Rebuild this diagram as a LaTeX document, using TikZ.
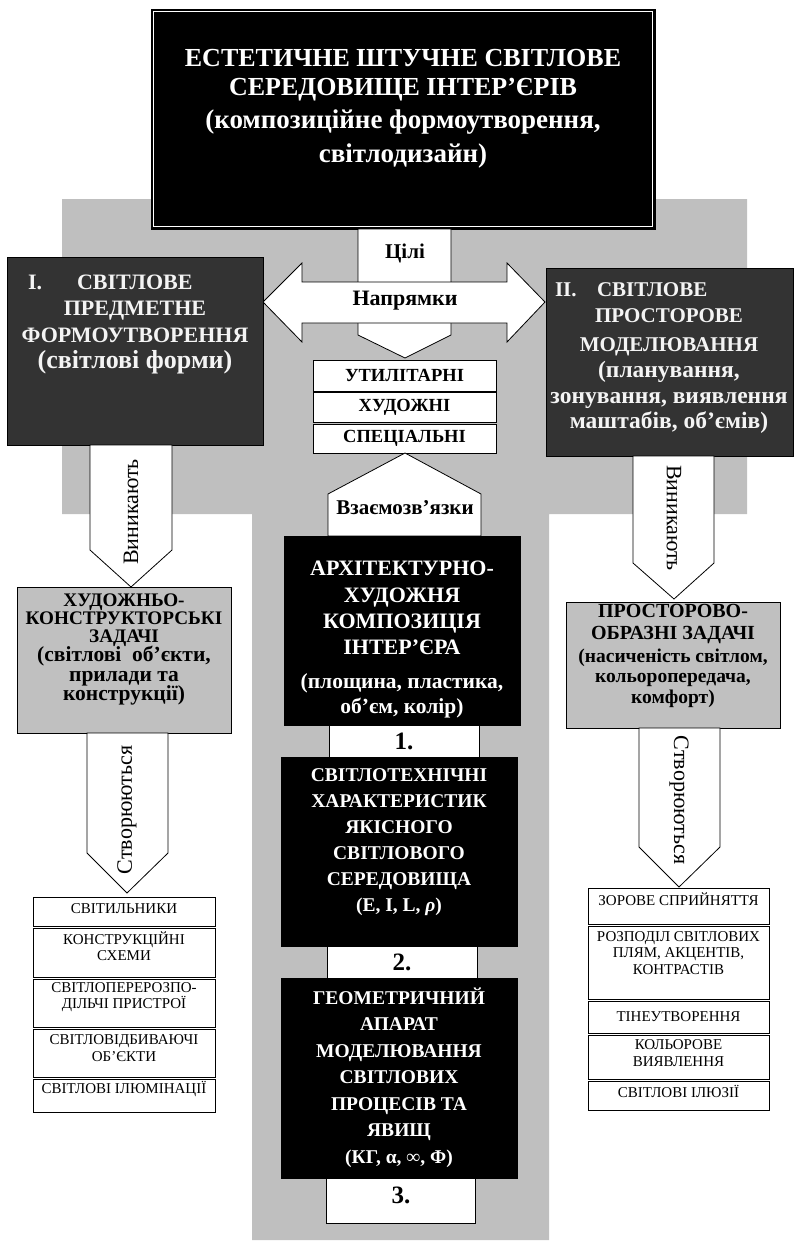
\documentclass[tikz,border=0pt]{standalone}
\usepackage{fontspec}
\setmainfont{Liberation Serif}
\definecolor{bg}{HTML}{BFBFBF}
\definecolor{boxgray}{HTML}{C0C0C0}
\definecolor{dark}{HTML}{333333}
\definecolor{lite}{HTML}{F4F4F4}
\begin{document}
\begin{tikzpicture}[x=1pt,y=-1pt,
  every node/.style={inner sep=0pt, outer sep=0pt},
  frame/.style={draw=black, line width=0.8pt, anchor=north west},
  blk/.style={frame, fill=black},
  drk/.style={frame, fill=dark},
  gry/.style={frame, fill=boxgray},
  wht/.style={frame, fill=white},
  barrow/.style={draw=black, line width=0.8pt, fill=white},
  fs/.style 2 args={font=\fontsize{#1}{#2}\selectfont},
  wb/.style={text=white, align=center},
  lb/.style={text=lite, align=center},
  bb/.style={text=black, align=center},
  listtxt/.style={text=black, align=center, fs={15}{16.5}},
  rot/.style={text=black, fs={22}{24}}
]
\useasboundingbox (0,0) rectangle (794,1245);
% gray background
\fill[bg] (62,199) -- (747,199) -- (747,514) -- (549,514) -- (549,1240)
  -- (252,1240) -- (252,514) -- (62,514) -- cycle;

% top box
\node[blk, minimum width=504pt, minimum height=220pt] (top) at (151,9) {};
\draw[white, line width=0.7pt] (153.5,11.5) rectangle (652.5,226.5);
\node[wb, fs={26}{29}] (toptitle) at (403,75) {\bfseries ЕСТЕТИЧНЕ ШТУЧНЕ СВІТЛОВЕ\\\bfseries СЕРЕДОВИЩЕ ІНТЕР’ЄРІВ};
\node[wb, fs={27}{34}] (topsub) at (403,139) {\bfseries (композиційне формоутворення,\\\bfseries світлодизайн)};

% goals arrow (down)
\draw[barrow] (358,229) -- (451,229) -- (451,335) -- (405,358) -- (358,335) -- cycle;
\node[bb, fs={21}{24}] (goals) at (405,253) {\bfseries Цілі};
% double arrow
\draw[barrow] (263,302) -- (302,263) -- (302,282) -- (507,282) -- (507,263) -- (545,302)
  -- (507,342) -- (507,323) -- (302,323) -- (302,342) -- cycle;
\node[bb, fs={22}{24}] (dirs) at (405,301) {\bfseries Напрямки};

% list of kinds
\node[wht, minimum width=183pt, minimum height=31pt] (k1) at (313,360) {};
\node[wht, minimum width=183pt, minimum height=30pt] (k2) at (313,392) {};
\node[wht, minimum width=183pt, minimum height=29pt] (k3) at (313,424) {};
\node[bb, fs={18.5}{20}] at (k1.center) {\bfseries УТИЛІТАРНІ};
\node[bb, fs={18.5}{20}] at (k2.center) {\bfseries ХУДОЖНІ};
\node[bb, fs={18.5}{20}] at (k3.center) {\bfseries СПЕЦІАЛЬНІ};

% interrelations arrow (up)
\draw[barrow] (405,453) -- (481,494) -- (481,536) -- (328,536) -- (328,494) -- cycle;
\node[bb, fs={21}{22}] (rel) at (405,508) {\bfseries Взаємозв’язки};

% central column
\node[blk, minimum width=236pt, minimum height=189pt] (c1) at (284,536) {};
\node[wb, fs={22}{26.3}] (c1a) at (402,608) {\bfseries АРХІТЕКТУРНО-\\\bfseries ХУДОЖНЯ\\\bfseries КОМПОЗИЦІЯ\\\bfseries ІНТЕР’ЄРА};
\node[wb, fs={21.5}{25}] (c1b) at (402,695.5) {\bfseries (площина, пластика,\\\bfseries об’єм, колір)};
\node[wht, minimum width=150pt, minimum height=32pt] (n1) at (329,725) {};
\node[bb, fs={25}{26}] at (n1.center) {\bfseries 1.};

\node[blk, minimum width=236pt, minimum height=189pt] (c2) at (281,757) {};
\node[wb, fs={19.5}{26}] (c2a) at (399,842) {\bfseries СВІТЛОТЕХНІЧНІ\\\bfseries ХАРАКТЕРИСТИК\\\bfseries ЯКІСНОГО\\\bfseries СВІТЛОВОГО\\\bfseries СЕРЕДОВИЩА\\\bfseries (E, I, L, \textit{ρ})};
\node[wht, minimum width=150pt, minimum height=32pt] (n2) at (327,946) {};
\node[bb, fs={25}{26}] at (n2.center) {\bfseries 2.};

\node[blk, minimum width=236pt, minimum height=200pt] (c3) at (281,978) {};
\node[wb, fs={19.5}{26.5}] (c3a) at (399,1077.5) {\bfseries ГЕОМЕТРИЧНИЙ\\\bfseries АПАРАТ\\\bfseries МОДЕЛЮВАННЯ\\\bfseries СВІТЛОВИХ\\\bfseries ПРОЦЕСІВ ТА\\\bfseries ЯВИЩ\\\bfseries (КГ, α, ∞, Φ)};
\node[wht, minimum width=149pt, minimum height=45pt] (n3) at (326,1178) {};
\node[bb, fs={25}{26}] at (401,1195) {\bfseries 3.};

% left branch
\node[drk, minimum width=256pt, minimum height=188pt] (L) at (7,257) {};
\node[lb, fs={22}{27}, anchor=west] (Lnum) at (28,282) {\bfseries I.};
\node[lb, fs={22}{27}, anchor=west] (Lt1) at (77,282) {\bfseries СВІТЛОВЕ};
\node[lb, fs={22}{27}] (Lt2) at (135,321.5) {\bfseries ПРЕДМЕТНЕ\\\bfseries ФОРМОУТВОРЕННЯ};
\node[lb, fs={26}{28}] (Lt3) at (135,362) {\bfseries (світлові форми)};

\draw[barrow] (90,445) -- (172,445) -- (172,550) -- (131,587) -- (90,550) -- cycle;
\node[rot, rotate=90] (Larr1) at (131,512) {Виникають};

\node[gry, minimum width=214pt, minimum height=146pt] (Lg) at (17,587) {};
\node[bb, fs={19.2}{18.3}] (Lga) at (124,620) {\bfseries ХУДОЖНЬО-\\\bfseries КОНСТРУКТОРСЬКІ\\\bfseries ЗАДАЧІ};
\node[bb, fs={21.5}{19.5}] (Lgb) at (124,676) {\bfseries (світлові\ \ об’єкти,\\\bfseries прилади та\\\bfseries конструкції)};

\draw[barrow] (87,733) -- (168,733) -- (168,853) -- (127,893) -- (87,853) -- cycle;
\node[rot, rotate=90] (Larr2) at (127,810) {Створюються};

\node[wht, minimum width=182pt, minimum height=29pt] (l1) at (33,897) {};
\node[wht, minimum width=182pt, minimum height=49pt] (l2) at (33,928) {};
\node[wht, minimum width=182pt, minimum height=48pt] (l3) at (33,979) {};
\node[wht, minimum width=182pt, minimum height=48pt] (l4) at (33,1029) {};
\node[wht, minimum width=182pt, minimum height=33pt] (l5) at (33,1079) {};
\node[listtxt] at (124,909) {СВІТИЛЬНИКИ};
\node[listtxt] at (124,946) {КОНСТРУКЦІЙНІ\\СХЕМИ};
\node[listtxt] at (124,997) {СВІТЛОПЕРЕРОЗПО-\\ДІЛЬЧІ ПРИСТРОЇ};
\node[listtxt] at (124,1048) {СВІТЛОВІДБИВАЮЧІ\\ОБ’ЄКТИ};
\node[listtxt] at (124,1089) {СВІТЛОВІ ІЛЮМІНАЦІЇ};

% right branch
\node[drk, minimum width=247pt, minimum height=188pt] (R) at (546,268) {};
\node[lb, fs={21}{28}, anchor=west] (Rnum) at (555,290) {\bfseries II.};
\node[lb, fs={21}{28}, anchor=west] (Rt1) at (597,290) {\bfseries СВІТЛОВЕ};
\node[lb, fs={21}{29}] (Rt2) at (669,332.5) {\bfseries ПРОСТОРОВЕ\\\bfseries МОДЕЛЮВАННЯ};
\node[lb, fs={23.5}{25.5}] (Rt3) at (669,397.5) {\bfseries (планування,\\\bfseries зонування, виявлення\\\bfseries маштабів, об’ємів)};

\draw[barrow] (633,456) -- (714,456) -- (714,563) -- (674,599) -- (633,563) -- cycle;
\node[rot, rotate=-90] (Rarr1) at (674,518) {Виникають};

\node[gry, minimum width=214pt, minimum height=126pt] (Rg) at (566,602) {};
\node[bb, fs={20}{22}] (Rga) at (673,624) {\bfseries ПРОСТОРОВО-\\\bfseries ОБРАЗНІ ЗАДАЧІ};
\node[bb, fs={19.5}{20.5}] (Rgb) at (673,678) {\bfseries (насиченість світлом,\\\bfseries кольоропередача,\\\bfseries комфорт)};

\draw[barrow] (639,728) -- (720,728) -- (720,847) -- (679,887) -- (639,847) -- cycle;
\node[rot, rotate=-90] (Rarr2) at (679,800) {Створюються};

\node[wht, minimum width=181pt, minimum height=36pt] (r1) at (588,888) {};
\node[wht, minimum width=181pt, minimum height=73pt] (r2) at (588,926) {};
\node[wht, minimum width=181pt, minimum height=32pt] (r3) at (588,1001) {};
\node[wht, minimum width=181pt, minimum height=44pt] (r4) at (588,1035) {};
\node[wht, minimum width=181pt, minimum height=29pt] (r5) at (588,1081) {};
\node[listtxt] at (678.5,899) {ЗОРОВЕ СПРИЙНЯТТЯ};
\node[listtxt] at (678.5,953) {РОЗПОДІЛ СВІТЛОВИХ\\ПЛЯМ, АКЦЕНТІВ,\\КОНТРАСТІВ};
\node[listtxt] at (678.5,1017) {ТІНЕУТВОРЕННЯ};
\node[listtxt] at (678.5,1053) {КОЛЬОРОВЕ\\ВИЯВЛЕННЯ};
\node[listtxt] at (678.5,1091) {СВІТЛОВІ ІЛЮЗІЇ};
\end{tikzpicture}
\end{document}
